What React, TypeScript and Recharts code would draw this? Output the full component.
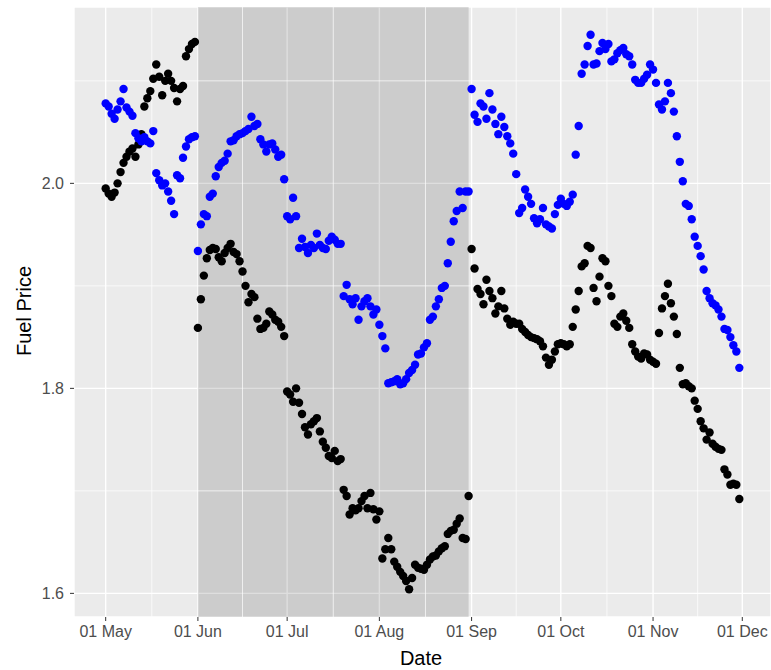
import React from 'react';
import { ScatterChart, Scatter, XAxis, YAxis, CartesianGrid, ReferenceArea, ReferenceLine } from 'recharts';

// Day offsets (days since 01 May) of the month ticks and their labels
const monthTickDays = [0, 31, 61, 92, 123, 153, 184, 214];
const monthTickLabels = ['01 May', '01 Jun', '01 Jul', '01 Aug', '01 Sep', '01 Oct', '01 Nov', '01 Dec'];
const minorDateLines = [15.5, 46, 76.5, 107.5, 138, 168.5, 199];
const priceTicks = [1.6, 1.8, 2.0];
const minorPriceLines = [1.7, 1.9, 2.1];
const shadedStartDay = 31; // 01 Jun
const shadedEndDay = 122; // 31 Aug

// Daily fuel prices, 01 May .. 30 Nov
const blackPrices = [
  // May
  1.995, 1.990, 1.987, 1.991, 2.000, 2.011, 2.020, 2.026, 2.031, 2.034,
  2.026, 2.038, 2.048, 2.075, 2.083, 2.090, 2.102, 2.116, 2.104, 2.086,
  2.100, 2.107, 2.100, 2.093, 2.080, 2.092, 2.095, 2.124, 2.131, 2.136,
  2.138,
  // Jun
  1.859, 1.887, 1.910, 1.927, 1.935, 1.937, 1.936, 1.928, 1.924, 1.932,
  1.937, 1.941, 1.933, 1.931, 1.924, 1.914, 1.900, 1.884, 1.892, 1.889,
  1.868, 1.858, 1.859, 1.863, 1.875, 1.872, 1.867, 1.865, 1.860, 1.851,
  // Jul
  1.797, 1.794, 1.787, 1.800, 1.786, 1.775, 1.762, 1.755, 1.765, 1.768,
  1.771, 1.758, 1.748, 1.742, 1.734, 1.732, 1.739, 1.729, 1.731, 1.701,
  1.695, 1.677, 1.683, 1.681, 1.683, 1.690, 1.695, 1.683, 1.698, 1.682,
  1.672,
  // Aug
  1.680, 1.634, 1.643, 1.654, 1.643, 1.631, 1.626, 1.621, 1.617, 1.612,
  1.604, 1.615, 1.628, 1.625, 1.624, 1.623, 1.628, 1.633, 1.636, 1.637,
  1.641, 1.644, 1.646, 1.658, 1.661, 1.662, 1.668, 1.673, 1.654, 1.653,
  1.695,
  // Sep
  1.936, 1.917, 1.897, 1.892, 1.882, 1.906, 1.895, 1.888, 1.873, 1.880,
  1.895, 1.878, 1.868, 1.862, 1.865, 1.863, 1.863, 1.858, 1.855, 1.852,
  1.850, 1.849, 1.848, 1.846, 1.841, 1.830, 1.823, 1.828, 1.836, 1.843,
  // Oct
  1.844, 1.843, 1.841, 1.843, 1.860, 1.877, 1.895, 1.919, 1.922, 1.939,
  1.937, 1.898, 1.885, 1.909, 1.927, 1.924, 1.900, 1.890, 1.863, 1.860,
  1.870, 1.873, 1.866, 1.859, 1.843, 1.836, 1.831, 1.829, 1.834, 1.833,
  1.828,
  // Nov
  1.826, 1.824, 1.854, 1.878, 1.890, 1.902, 1.883, 1.870, 1.853, 1.820,
  1.804, 1.805, 1.802, 1.800, 1.788, 1.780, 1.768, 1.761, 1.750, 1.757,
  1.746, 1.743, 1.741, 1.740, 1.721, 1.716, 1.706, 1.707, 1.706, 1.692,
];

const bluePrices = [
  // May
  2.078, 2.075, 2.068, 2.063, 2.072, 2.080, 2.092, 2.074, 2.070, 2.066,
  2.049, 2.044, 2.041, 2.045, 2.041, 2.039, 2.051, 2.010, 2.003, 1.998,
  2.000, 1.992, 1.983, 1.970, 2.008, 2.005, 2.025, 2.036, 2.043, 2.045,
  2.046,
  // Jun
  1.934, 1.960, 1.970, 1.968, 1.987, 1.990, 2.007, 2.016, 2.020, 2.022,
  2.029, 2.041, 2.042, 2.046, 2.048, 2.049, 2.051, 2.053, 2.065, 2.056,
  2.058, 2.043, 2.038, 2.031, 2.038, 2.039, 2.033, 2.026, 2.028, 2.004,
  // Jul
  1.968, 1.965, 1.986, 1.968, 1.937, 1.946, 1.938, 1.932, 1.940, 1.937,
  1.951, 1.940, 1.937, 1.936, 1.944, 1.948, 1.945, 1.941, 1.941, 1.890,
  1.901, 1.887, 1.882, 1.888, 1.867, 1.880, 1.885, 1.888, 1.880, 1.872,
  1.877,
  // Aug
  1.862, 1.851, 1.839, 1.805, 1.806, 1.807, 1.809, 1.804, 1.805, 1.809,
  1.815, 1.818, 1.823, 1.833, 1.834, 1.840, 1.844, 1.867, 1.870, 1.880,
  1.887, 1.898, 1.900, 1.922, 1.943, 1.963, 1.973, 1.992, 1.976, 1.992,
  1.992,
  // Sep
  2.092, 2.067, 2.060, 2.078, 2.075, 2.063, 2.088, 2.072, 2.058, 2.048,
  2.065, 2.055, 2.046, 2.039, 2.029, 2.009, 1.971, 1.976, 1.994, 1.987,
  1.980, 1.966, 1.961, 1.965, 1.976, 1.960, 1.958, 1.956, 1.970, 1.979,
  // Oct
  1.985, 1.980, 1.978, 1.982, 1.989, 2.028, 2.056, 2.107, 2.116, 2.134,
  2.145, 2.116, 2.117, 2.129, 2.137, 2.131, 2.136, 2.119, 2.121, 2.127,
  2.130, 2.132, 2.126, 2.124, 2.116, 2.101, 2.098, 2.098, 2.102, 2.106,
  2.116,
  // Nov
  2.111, 2.098, 2.077, 2.072, 2.080, 2.098, 2.088, 2.070, 2.046, 2.021,
  2.002, 1.980, 1.978, 1.965, 1.948, 1.939, 1.929, 1.916, 1.895, 1.888,
  1.883, 1.881, 1.877, 1.870, 1.858, 1.857, 1.850, 1.842, 1.836, 1.820,
];

const blackData = blackPrices.map((price, day) => ({ day, price }));
const blueData = bluePrices.map((price, day) => ({ day, price }));

const allPrices = [...blackPrices, ...bluePrices];
const pMin = Math.min(...allPrices);
const pMax = Math.max(...allPrices);
const pPad = (pMax - pMin) * 0.05;
const dMax = blackPrices.length - 1;
const dPad = dMax * 0.05;

const FONT = '"Liberation Sans", Arial, Helvetica, sans-serif';

const makeDot = (color: string) => (props: any) => {
  const { cx, cy } = props;
  if (cx == null || cy == null) return <g />;
  return <circle cx={cx} cy={cy} r={4.2} fill={color} />;
};

export default function App() {
  const W = 771;
  const H = 670;
  return (
    <div style={{ position: 'absolute', left: 0, top: 0, width: W, height: H, fontFamily: FONT }}>
      <ScatterChart width={W} height={H} margin={{ top: 7, right: 0, bottom: 0, left: 0 }}>
        <CartesianGrid stroke="#FFFFFF" strokeWidth={1.4} fill="#EBEBEB" fillOpacity={1} />
        {minorDateLines.map((d) => (
          <ReferenceLine key={'mx' + d} x={d} stroke="#FFFFFF" strokeWidth={0.7} />
        ))}
        {minorPriceLines.map((p) => (
          <ReferenceLine key={'my' + p} y={p} stroke="#FFFFFF" strokeWidth={0.7} />
        ))}
        <XAxis
          type="number"
          dataKey="day"
          domain={[-dPad, dMax + dPad]}
          allowDataOverflow
          ticks={monthTickDays}
          interval={0}
          tickFormatter={(v: number) => monthTickLabels[monthTickDays.indexOf(v)]}
          axisLine={false}
          tickLine={{ stroke: '#333333', strokeWidth: 1 }}
          tickSize={4}
          tickMargin={5}
          tick={{ fill: '#4D4D4D', fontSize: 16, fontFamily: FONT }}
          height={53}
        />
        <YAxis
          type="number"
          dataKey="price"
          domain={[pMin - pPad, pMax + pPad]}
          allowDataOverflow
          ticks={priceTicks}
          interval={0}
          tickFormatter={(v: number) => v.toFixed(1)}
          axisLine={false}
          tickLine={{ stroke: '#333333', strokeWidth: 1 }}
          tickSize={4}
          tickMargin={6}
          tick={{ fill: '#4D4D4D', fontSize: 16, fontFamily: FONT }}
          width={74}
        />
        <ReferenceArea x1={shadedStartDay} x2={shadedEndDay} fill="#000000" fillOpacity={0.13} stroke="none" />
        <Scatter data={blackData} shape={makeDot('#000000')} isAnimationActive={false} />
        <Scatter data={blueData} shape={makeDot('#0000FF')} isAnimationActive={false} />
      </ScatterChart>
      <svg width={W} height={H} style={{ position: 'absolute', left: 0, top: 0, pointerEvents: 'none' }}>
        <text x={421} y={665} textAnchor="middle" fontSize={20} fontFamily={FONT} fill="#000000">
          Date
        </text>
        <text transform="translate(31,311) rotate(-90)" textAnchor="middle" fontSize={20} fontFamily={FONT} fill="#000000">
          Fuel Price
        </text>
      </svg>
    </div>
  );
}
